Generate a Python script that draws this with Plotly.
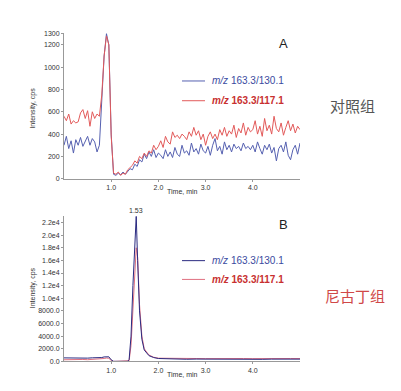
import plotly.graph_objects as go

W, H = 401, 391

# ---------------- Data: panel A (control) ----------------
A_time = [round(i * 0.05, 2) for i in range(101)]
A_130 = [300, 380, 270, 340, 230, 350, 300, 370, 290, 340,
         380, 300, 360, 330, 240, 300, 650, 1100, 1300, 1200,
         400, 40, 30, 50, 35, 60, 40, 70, 90, 80,
         130, 110, 170, 150, 220, 180, 240, 200, 260, 190,
         230, 210, 180, 260, 200, 240, 190, 280, 220, 200,
         300, 230, 250, 210, 320, 240, 270, 220, 310, 250,
         230, 290, 210, 300, 360, 250, 290, 220, 330, 260,
         300, 240, 310, 270, 290, 250, 320, 270, 290, 260,
         300, 240, 330, 270, 220, 300, 260, 310, 230, 280,
         160, 270, 300, 240, 330, 210, 170, 260, 300, 220, 320]
A_117 = [560, 520, 580, 490, 520, 500, 510, 590, 620, 540,
         610, 470, 600, 540, 580, 560, 750, 1100, 1280, 1200,
         380, 50, 40, 60, 30, 50, 40, 80, 100, 120,
         160, 140, 200, 180, 230, 200, 250, 230, 300, 260,
         290, 340, 280, 380, 330, 310, 420, 370, 390, 360,
         400, 380, 350, 420, 380, 460, 390, 430, 350, 400,
         300, 380, 420, 360, 400, 350, 440, 390, 460, 380,
         430, 400, 480, 370, 450, 410, 500, 390, 460, 420,
         440, 520, 400, 470, 380, 540, 430, 480, 400, 560,
         450, 420, 500, 390, 460, 520, 430, 490, 410, 470, 440]

# ---------------- Data: panel B (nicotine) ----------------
B_time = [0.0, 0.1, 0.2, 0.3, 0.4, 0.5, 0.6, 0.7, 0.8, 0.85, 0.9, 0.95,
          1.0, 1.05, 1.1, 1.2, 1.3, 1.35, 1.38, 1.42, 1.46, 1.50, 1.53,
          1.56, 1.60, 1.65, 1.70, 1.80, 1.90, 2.0, 2.2, 2.4, 2.6, 2.8,
          3.0, 3.2, 3.4, 3.6, 3.8, 4.0, 4.2, 4.4, 4.6, 4.8, 5.0]
B_130 = [550, 520, 540, 500, 530, 510, 560, 540, 600, 700, 760, 720,
         250, 0, 0, 0, 0, 0, 300, 4000, 12000, 20000, 23000,
         16000, 8000, 3500, 1800, 900, 600, 450, 380, 350, 330, 360,
         340, 320, 350, 330, 360, 340, 320, 350, 330, 340, 350]
B_117 = [250, 280, 240, 270, 300, 260, 290, 330, 380, 450, 520, 480,
         150, 0, 0, 0, 0, 0, 100, 2500, 9000, 15500, 18000,
         16500, 9000, 4000, 2000, 1000, 650, 500, 460, 440, 470, 450,
         430, 460, 440, 470, 450, 430, 460, 440, 470, 450, 440]

A_yticks = [0, 200, 400, 600, 800, 1000, 1200, 1300]
B_yticks = [0, 2000, 4000, 6000, 8000, 10000, 12000, 14000, 16000, 18000, 20000, 22000]
B_ytext = ["0.0", "2000.0", "4000.0", "6000.0", "8000.0", "1.0e4", "1.2e4",
           "1.4e4", "1.6e4", "1.8e4", "2.0e4", "2.2e4"]
x_ticks = [1.0, 2.0, 3.0, 4.0]
x_ticktext = ["1.0", "2.0", "3.0", "4.0"]
legend_labels = ["<i>m/z</i> 163.3/130.1", "<b><i>m/z</i> 163.3/117.1</b>"]


def px(x):
    return x / W


def py(y):
    return 1 - y / H


fig = go.Figure()
fig.add_trace(go.Scatter(x=A_time, y=A_130, mode="lines", line=dict(color="#5560b0", width=1),
                         xaxis="x", yaxis="y", showlegend=False))
fig.add_trace(go.Scatter(x=A_time, y=A_117, mode="lines", line=dict(color="#e25a5a", width=1),
                         xaxis="x", yaxis="y", showlegend=False))
fig.add_trace(go.Scatter(x=B_time, y=B_117, mode="lines", line=dict(color="#e07080", width=1),
                         xaxis="x2", yaxis="y2", showlegend=False))
fig.add_trace(go.Scatter(x=B_time, y=B_130, mode="lines", line=dict(color="#2a2a80", width=1),
                         xaxis="x2", yaxis="y2", showlegend=False))

tickfont = dict(family="Liberation Sans", size=7, color="#333333")
axis_common = dict(showgrid=False, zeroline=False, showline=True, linecolor="#999999",
                   linewidth=1, ticks="outside", ticklen=2, tickcolor="#999999",
                   tickfont=tickfont)

xdom = [px(64), px(300)]
fig.update_layout(
    width=W, height=H, margin=dict(l=0, r=0, t=0, b=0),
    paper_bgcolor="white", plot_bgcolor="white",
    xaxis=dict(domain=xdom, range=[0, 5], tickvals=x_ticks, ticktext=x_ticktext,
               anchor="y", **axis_common),
    yaxis=dict(domain=[py(179), py(31)], range=[0, 1310], tickvals=A_yticks,
               anchor="x", **axis_common),
    xaxis2=dict(domain=xdom, range=[0, 5], tickvals=x_ticks, ticktext=x_ticktext,
                anchor="y2", **axis_common),
    yaxis2=dict(domain=[py(364), py(217)], range=[0, 23000], tickvals=B_yticks, ticktext=B_ytext,
                anchor="x2", **axis_common),
)

ann = []
shapes = []


def text_at(x, y, text, font, xanchor="center", **kw):
    ann.append(dict(x=px(x), y=py(y), xref="paper", yref="paper", text=text,
                    xanchor=xanchor, yanchor="middle", showarrow=False, font=font, **kw))


small = dict(family="Liberation Sans", size=7, color="#333")
# Axis titles
for ycen in [108, 290]:
    text_at(33, ycen, "Intensity, cps", small, textangle=-90)
for yt in [192, 377]:
    text_at(182, yt, "Time, min", small)

# Legends
leg = [
    (80, "#5560b0", "#3a4aa0", legend_labels[0]),
    (100, "#e25a5a", "#c83030", legend_labels[1]),
    (262, "#2a2a80", "#3a4aa0", legend_labels[0]),
    (281, "#e07080", "#c83030", legend_labels[1]),
]
for yy, lc, tc, txt in leg:
    shapes.append(dict(type="line", xref="paper", yref="paper", x0=px(182), x1=px(205),
                       y0=py(yy), y1=py(yy), line=dict(color=lc, width=1)))
    text_at(210, yy, txt, dict(family="Liberation Sans", size=10, color=tc), xanchor="left")

# Panel letters and group names
text_at(283, 42, "A", dict(family="Liberation Sans", size=13, color="#222"))
text_at(283, 225, "B", dict(family="Liberation Sans", size=13, color="#222"))
text_at(352, 105, "对照组", dict(family="Noto Sans CJK SC", size=15, color="#555"))
text_at(355, 297, "尼古丁组", dict(family="Noto Sans CJK SC", size=15, color="#d04848"))

# Peak label
ann.append(dict(x=1.53, y=23000, xref="x2", yref="y2", text="1.53", showarrow=False,
                xanchor="center", yanchor="bottom", font=small))

fig.update_layout(annotations=ann, shapes=shapes)
fig.write_html("out.html")
